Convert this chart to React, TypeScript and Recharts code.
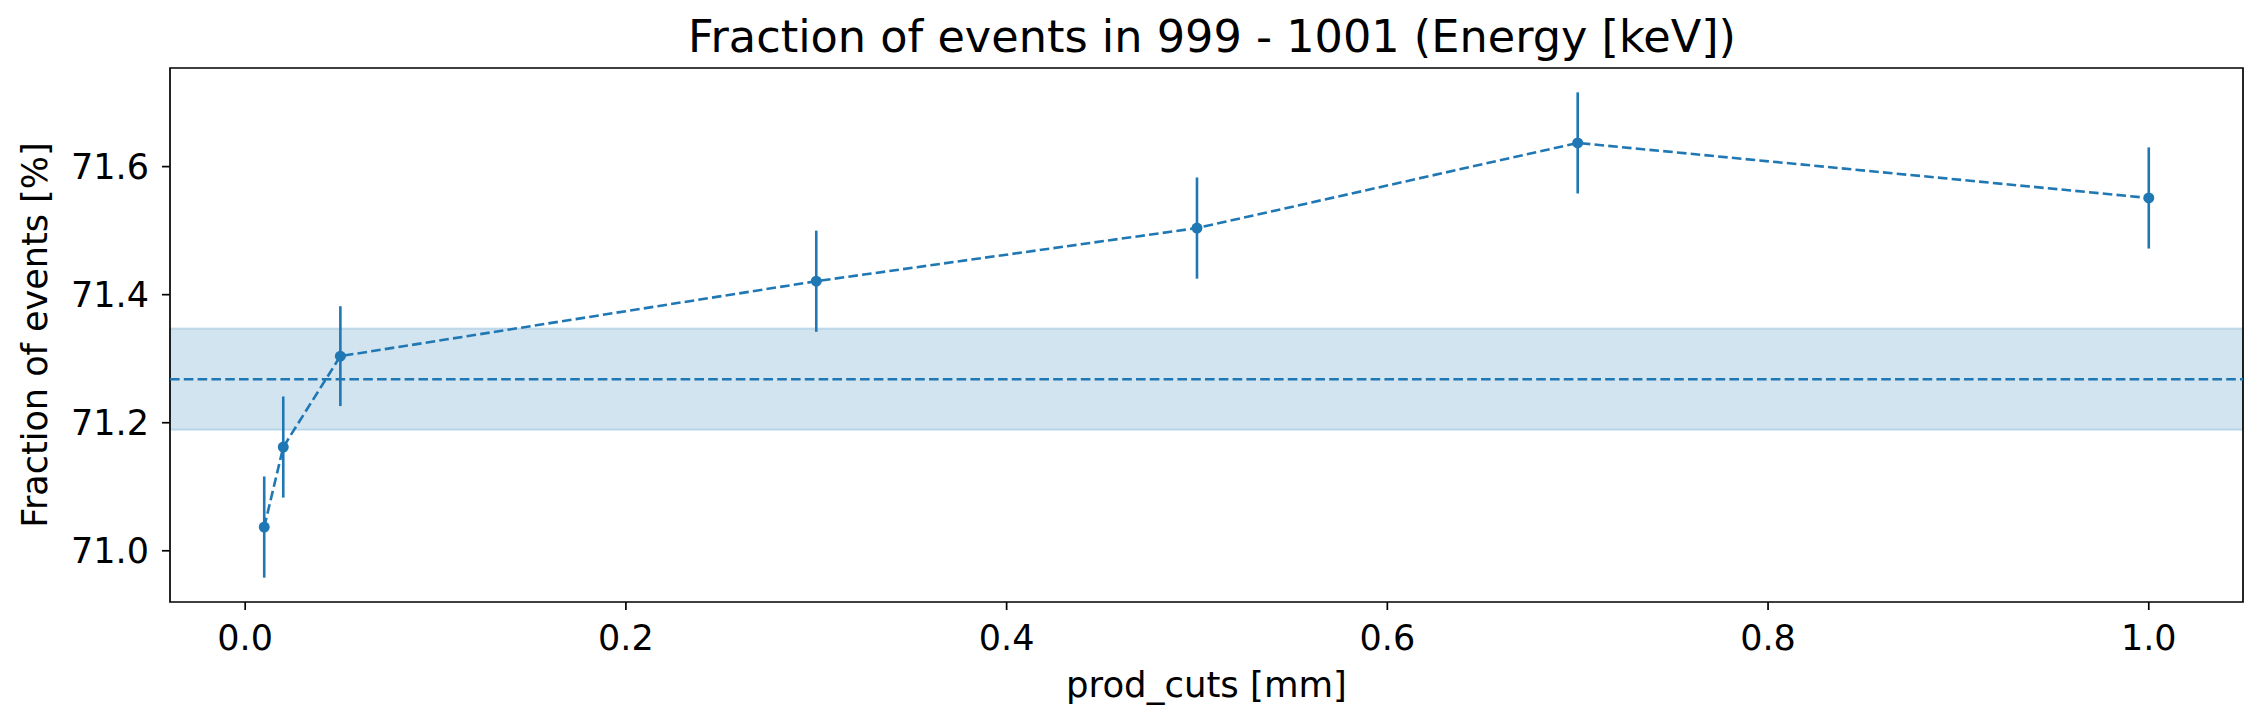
import React from 'react';
import {
  ComposedChart,
  XAxis,
  YAxis,
  Line,
  ErrorBar,
  ReferenceArea,
  ReferenceLine,
} from 'recharts';

const prodCuts = [0.01, 0.02, 0.05, 0.3, 0.5, 0.7, 1.0];
const fractions = [71.037, 71.162, 71.304, 71.421, 71.504, 71.637, 71.551];
const fractionErrors = [0.079, 0.079, 0.078, 0.079, 0.079, 0.079, 0.079];

const meanFraction = 71.268;
const bandLow = 71.189;
const bandHigh = 71.347;

const xTicks = [0, 0.2, 0.4, 0.6, 0.8, 1.0];
const yTicks = [71.0, 71.2, 71.4, 71.6];
const xDomain: [number, number] = [-0.0395, 1.0495];
const yDomain: [number, number] = [70.92, 71.754];

const BLUE = '#1f77b4';
const FONT = 'DejaVu Sans';
const WIDTH = 2261;
const HEIGHT = 725;

const data = prodCuts.map((x, i) => ({
  x,
  y: fractions[i],
  err: fractionErrors[i],
}));

export default function App() {
  const tickStyle = { fill: '#000', fontSize: 35, fontFamily: FONT };
  const lineStyle = { stroke: '#000', strokeWidth: 1.7 };

  return (
    <div
      style={{
        position: 'absolute',
        left: 0,
        top: 0,
        width: WIDTH,
        height: HEIGHT,
        background: '#fff',
      }}
    >
      <ComposedChart
        width={WIDTH}
        height={HEIGHT}
        data={data}
        margin={{ top: 68, right: 18, bottom: 0, left: 0 }}
      >
        <XAxis
          dataKey="x"
          type="number"
          domain={xDomain}
          allowDataOverflow
          ticks={xTicks}
          tickFormatter={(v: number) => v.toFixed(1)}
          tick={tickStyle}
          tickSize={8}
          tickMargin={15}
          tickLine={lineStyle}
          axisLine={false}
          height={123}
          label={{
            value: 'prod_cuts [mm]',
            position: 'insideBottom',
            offset: 28,
            style: { fill: '#000', fontSize: 35.5, fontFamily: FONT },
          }}
        />
        <YAxis
          type="number"
          domain={yDomain}
          allowDataOverflow
          ticks={yTicks}
          tickFormatter={(v: number) => v.toFixed(1)}
          tick={tickStyle}
          tickSize={8}
          tickMargin={13}
          tickLine={lineStyle}
          axisLine={false}
          width={170}
          label={{
            value: 'Fraction of events [%]',
            angle: -90,
            position: 'insideLeft',
            offset: 35,
            textAnchor: 'middle',
            style: { fill: '#000', fontSize: 35, fontFamily: FONT, textAnchor: 'middle' },
          }}
        />
        <ReferenceArea
          y1={bandLow}
          y2={bandHigh}
          fill={BLUE}
          fillOpacity={0.2}
          stroke={BLUE}
          strokeOpacity={0.2}
          strokeWidth={2}
          ifOverflow="visible"
        />
        <ReferenceLine
          y={meanFraction}
          stroke={BLUE}
          strokeWidth={2.6}
          strokeDasharray="9.6 4.2"
        />
        <Line
          dataKey="y"
          stroke={BLUE}
          strokeWidth={2.6}
          strokeDasharray="9.6 4.2"
          dot={{ r: 5.5, fill: BLUE, stroke: 'none', strokeDasharray: '0' }}
          activeDot={false}
          isAnimationActive={false}
        >
          <ErrorBar
            dataKey="err"
            direction="y"
            width={0}
            stroke={BLUE}
            strokeWidth={2.6}
            isAnimationActive={false}
          />
        </Line>
        <ReferenceArea
          x1={xDomain[0]}
          x2={xDomain[1]}
          y1={yDomain[0]}
          y2={yDomain[1]}
          fill="none"
          stroke="#000"
          strokeWidth={1.7}
          ifOverflow="visible"
        />
      </ComposedChart>
      <svg
        width={WIDTH}
        height={70}
        style={{ position: 'absolute', left: 0, top: 0, pointerEvents: 'none' }}
      >
        <text
          x={1212}
          y={52}
          textAnchor="middle"
          fontSize={44.6}
          fontFamily={FONT}
          fill="#000"
        >
          Fraction of events in 999 - 1001 (Energy [keV])
        </text>
      </svg>
    </div>
  );
}
